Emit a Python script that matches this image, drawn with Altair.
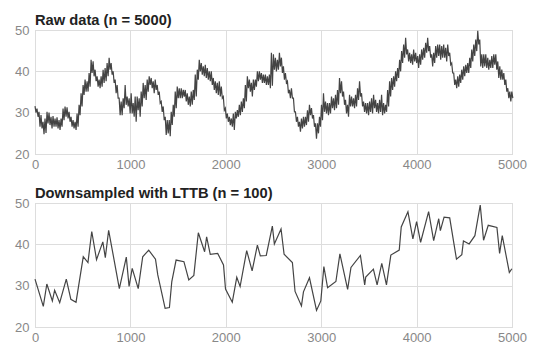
import altair as alt
import pandas as pd

# ---- Raw data envelope (column step of 21 samples) ----
raw_step = 21
raw_hi = [31.6, 31.0, 30.2, 29.4, 27.8, 28.6, 30.2, 30.0, 29.0, 29.2,
          28.6, 28.9, 28.2, 28.6, 31.0, 31.5, 31.3, 30.2, 29.0, 28.2,
          27.8, 29.8, 31.9, 34.7, 36.7, 38.0, 37.6, 39.6, 42.8, 42.4,
          40.4, 38.8, 38.0, 38.8, 40.4, 40.8, 42.0, 43.3, 42.0, 40.0,
          38.0, 36.7, 33.5, 32.7, 33.5, 36.7, 33.9, 33.5, 34.7, 32.3,
          33.9, 33.9, 33.5, 35.1, 37.2, 36.7, 38.0, 38.8, 38.4, 37.6,
          38.0, 36.7, 35.1, 32.7, 31.5, 29.0, 28.2, 28.2, 30.2, 31.9,
          35.1, 36.3, 35.9, 35.9, 35.5, 35.5, 34.7, 33.9, 35.1, 35.5,
          39.2, 40.4, 42.8, 42.0, 41.2, 41.6, 40.8, 40.0, 40.0, 38.4,
          37.6, 37.2, 37.6, 36.3, 33.9, 31.1, 29.8, 29.0, 28.6, 29.8,
          30.2, 30.6, 31.9, 32.7, 33.5, 36.7, 38.8, 38.0, 37.2, 38.0,
          38.0, 40.0, 40.0, 39.6, 39.2, 39.2, 38.8, 39.2, 44.5, 44.1,
          43.3, 42.8, 44.5, 43.3, 41.2, 39.6, 37.6, 35.5, 35.9, 33.5,
          30.2, 29.0, 27.8, 28.6, 29.0, 29.0, 30.6, 31.9, 31.1, 29.4,
          27.4, 27.4, 29.0, 31.9, 34.7, 32.7, 32.3, 32.3, 33.9, 33.5,
          34.3, 35.5, 38.4, 37.6, 35.1, 33.1, 31.9, 34.3, 33.9, 33.5,
          34.3, 35.9, 37.6, 34.7, 32.7, 32.3, 32.3, 32.7, 33.5, 34.3,
          33.1, 32.3, 33.1, 34.3, 32.3, 31.9, 35.5, 37.6, 38.4, 38.8,
          40.0, 40.8, 42.8, 44.9, 46.5, 48.1, 45.3, 44.5, 44.1, 45.3,
          44.5, 43.7, 44.1, 45.3, 45.7, 46.9, 48.1, 46.1, 44.1, 44.5,
          46.1, 46.5, 46.5, 46.1, 46.5, 45.7, 46.5, 44.5, 42.0, 39.6,
          38.0, 38.8, 39.2, 40.4, 41.2, 41.6, 42.0, 43.3, 45.3, 46.5,
          47.7, 49.8, 47.7, 44.1, 44.1, 44.1, 43.3, 42.8, 43.7, 44.1,
          44.1, 42.4, 41.2, 40.4, 39.6, 38.0, 35.9, 35.1, 35.1]
raw_lo = [30.0, 29.0, 26.6, 26.2, 24.8, 25.1, 27.4, 27.0, 26.2, 26.6,
          26.6, 26.2, 25.8, 26.6, 28.2, 29.0, 28.6, 27.8, 26.6, 26.2,
          25.8, 26.6, 29.4, 31.5, 34.3, 35.1, 35.1, 36.3, 39.6, 38.8,
          37.6, 36.3, 35.9, 36.3, 37.2, 37.6, 38.8, 40.4, 39.2, 37.2,
          34.7, 33.5, 29.4, 29.4, 31.1, 31.9, 31.5, 29.8, 29.8, 29.0,
          27.8, 30.6, 29.0, 31.5, 33.5, 33.1, 35.1, 36.7, 35.9, 34.7,
          35.5, 34.3, 32.3, 30.2, 28.2, 24.6, 25.0, 24.3, 27.0, 29.0,
          31.1, 33.5, 33.5, 33.5, 33.9, 32.7, 31.9, 31.5, 31.9, 33.1,
          33.9, 38.0, 40.0, 39.2, 38.8, 38.4, 38.0, 37.6, 36.7, 35.5,
          34.7, 34.3, 33.9, 33.5, 30.6, 28.6, 27.8, 27.0, 26.6, 25.8,
          28.6, 29.0, 29.4, 30.2, 31.1, 32.7, 35.9, 35.1, 33.9, 35.5,
          36.3, 37.6, 38.0, 37.2, 37.2, 36.7, 36.7, 35.9, 36.5, 40.4,
          40.0, 40.4, 41.2, 39.6, 38.0, 37.2, 34.7, 33.5, 33.5, 30.2,
          27.8, 26.6, 25.4, 26.2, 26.6, 27.0, 27.8, 29.4, 28.6, 26.6,
          23.7, 25.0, 26.6, 28.2, 30.2, 29.8, 29.4, 29.8, 31.1, 30.6,
          31.1, 31.9, 34.7, 33.9, 31.9, 29.8, 29.0, 31.5, 31.5, 31.1,
          31.5, 33.1, 33.9, 31.5, 30.2, 29.8, 29.4, 30.2, 29.8, 31.1,
          30.2, 29.8, 30.2, 29.4, 29.8, 30.2, 31.5, 33.9, 35.5, 36.3,
          37.6, 38.4, 40.0, 42.0, 43.3, 44.1, 42.4, 42.0, 41.6, 42.4,
          42.0, 40.8, 41.6, 42.8, 43.3, 44.5, 44.9, 43.3, 41.2, 42.0,
          43.3, 43.7, 42.8, 43.3, 43.3, 42.4, 43.7, 41.6, 39.6, 36.7,
          35.9, 36.3, 37.2, 38.0, 38.8, 39.6, 39.6, 40.8, 42.4, 43.7,
          44.9, 46.5, 41.2, 40.8, 41.2, 40.8, 40.4, 40.8, 40.8, 41.6,
          40.4, 38.4, 38.0, 38.0, 36.7, 35.1, 33.5, 32.7, 33.5]

# ---- LTTB downsampled points ----
lttb_x = [0, 87, 124, 182, 206, 259, 328, 376, 430, 506, 555, 595, 645, 711,
          737, 772, 884, 957, 986, 1019, 1082, 1129, 1192, 1263, 1287, 1364,
          1409, 1434, 1479, 1561, 1612, 1665, 1712, 1778, 1799, 1837, 1915,
          1976, 1997, 2068, 2115, 2150, 2219, 2276, 2331, 2362, 2424, 2488,
          2509, 2579, 2611, 2698, 2726, 2793, 2814, 2877, 2951, 2996, 3028,
          3067, 3154, 3196, 3277, 3312, 3411, 3456, 3467, 3547, 3586, 3635,
          3684, 3730, 3818, 3839, 3909, 3961, 4000, 4042, 4126, 4179, 4232,
          4249, 4288, 4347, 4418, 4474, 4491, 4551, 4611, 4667, 4702, 4751,
          4842, 4870, 4898, 4972, 4999]
lttb_y = [31.6, 25.0, 30.4, 26.3, 28.9, 25.9, 31.6, 26.7, 26.0, 37.0, 35.6,
          43.1, 36.3, 40.6, 36.8, 43.4, 29.3, 36.9, 29.8, 34.2, 29.3, 37.0,
          38.6, 36.4, 32.6, 24.5, 24.7, 31.0, 36.2, 35.8, 31.4, 32.5, 42.8,
          38.2, 41.8, 37.6, 37.8, 35.0, 29.2, 26.0, 32.0, 29.8, 38.5, 33.6,
          39.8, 37.2, 37.3, 44.4, 40.1, 43.7, 37.6, 35.6, 28.6, 25.1, 28.5,
          31.9, 24.0, 26.3, 34.6, 29.5, 31.0, 37.7, 29.1, 34.4, 37.3, 30.2,
          32.1, 34.0, 30.2, 35.4, 30.2, 37.4, 38.6, 44.2, 47.9, 41.3, 45.5,
          40.5, 47.9, 40.9, 46.2, 43.3, 46.6, 46.4, 36.4, 37.5, 40.8, 40.1,
          42.1, 49.5, 41.0, 44.6, 44.1, 37.8, 42.1, 33.2, 34.1]

x_ticks = [0, 1000, 2000, 3000, 4000, 5000]
y_ticks = [20, 30, 40, 50]

# build raw table: strictly alternate high / low within each column
raw_rows = []
for k, (h, l) in enumerate(zip(raw_hi, raw_lo)):
    x0 = k * raw_step
    raw_rows.append({"x": x0, "y": h})
    raw_rows.append({"x": x0 + raw_step / 2, "y": l})
raw_df = pd.DataFrame(raw_rows)
lttb_df = pd.DataFrame({"x": lttb_x, "y": lttb_y})

xs = alt.Scale(domain=[0, 5000], nice=False)
ys = alt.Scale(domain=[20, 50], nice=False)
xax = alt.Axis(values=x_ticks, title=None, ticks=False, domain=False,
               labelPadding=4, grid=True, format="d", labelFlush=False)
yax = alt.Axis(values=y_ticks, title=None, ticks=False, domain=False,
               labelPadding=6, grid=True, format="d", labelFlush=False)

W, H = 477, 124

ttl_top = alt.TitleParams("Raw data (n = 5000)", anchor="start", frame="group")
ttl_bot = alt.TitleParams("Downsampled with LTTB (n = 100)", anchor="start",
                          frame="group")

top = alt.Chart(raw_df, title=ttl_top).mark_line(
    color="#444444", strokeWidth=1.2, interpolate="linear"
).encode(
    x=alt.X("x:Q", scale=xs, axis=xax),
    y=alt.Y("y:Q", scale=ys, axis=yax),
).properties(width=W, height=H)

bottom = alt.Chart(lttb_df, title=ttl_bot).mark_line(
    color="#444444", strokeWidth=1.2
).encode(
    x=alt.X("x:Q", scale=xs, axis=xax),
    y=alt.Y("y:Q", scale=ys, axis=yax),
).properties(width=W, height=H)

chart = alt.vconcat(top, bottom, spacing=13).properties(
    padding={"left": 6, "top": 4, "right": 5, "bottom": 0}
).configure_view(
    stroke="#cccccc", strokeWidth=1
).configure_axis(
    gridColor="#dddddd", gridWidth=1,
    labelColor="#888888", labelFont="Liberation Sans", labelFontSize=13,
).configure_title(
    font="Liberation Sans", fontSize=14.7, fontWeight="bold", color="#222222",
    offset=-4,
)

chart.save("out.html", embed_options={"renderer": "svg", "actions": False})
